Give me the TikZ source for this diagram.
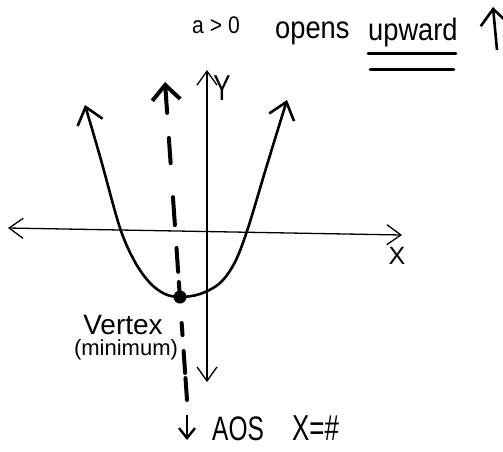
\documentclass[tikz,border=0pt]{standalone}
\usepackage{fontspec}
\setmainfont{Liberation Sans}
\newfontfamily\hand[FakeStretch=0.72]{Liberation Sans}
\newfontfamily\handw[FakeStretch=0.88]{Liberation Sans}
\usetikzlibrary{arrows.meta,calc}
\begin{document}
\begin{tikzpicture}[x=1pt,y=-1pt,
  axis/.style={line width=1.3pt,{Straight Barb[length=14pt,width=20pt]}-{Straight Barb[length=14pt,width=20pt]}},
  curve/.style={line width=2.6pt,line cap=round,line join=round,{Straight Barb[length=16pt,width=26pt]}-{Straight Barb[length=16pt,width=26pt]}},
  aosdash/.style={line width=4pt,line cap=round},
  uline/.style={line width=3pt,line cap=round},
  txt/.style={inner sep=0pt},
  hw/.style={txt,font=\handw\fontsize{31}{33}\selectfont}
]
\useasboundingbox (0,0) rectangle (503,451);

% key points
\coordinate (ytop) at (207,70);
\coordinate (ybot) at (207,382);
\coordinate (xl) at (8,228);
\coordinate (xr) at (402,235);
\coordinate (V) at (180,297);
\coordinate (aostop) at (165,82);
\coordinate (aosbot) at (187,400);

% axes
\draw[axis] (ybot) -- (ytop);
\draw[axis] (xl) -- (xr);
\node[txt,font=\hand\fontsize{36}{38}\selectfont] (ylab) at (222,88) {Y};
\node[txt,font=\fontsize{25}{27}\selectfont] (xlab) at (397,256) {X};

% parabola
\draw[curve] plot[smooth,tension=0.55] coordinates {(85,105) (101,160) (120,228) (135,262) (150,283) (165,294) (180,297) (200,294) (220,283) (235,262) (248,228) (267,165) (287,100)};

% axis of symmetry (hand dashed)
\draw[aosdash,-{Straight Barb[length=15pt,width=28pt]}] ($(aostop)!0.097!(aosbot)$) -- (aostop);
\foreach \a/\b in {0.176/0.255,0.362/0.45,0.522/0.597,0.629/0.676,0.758/0.796,0.846/0.915,0.931/1}
  \draw[aosdash] ($(aostop)!\a!(aosbot)$) -- ($(aostop)!\b!(aosbot)$);
\fill (V) circle (6.5pt);

% labels
\node[txt,font=\handw\fontsize{24}{26}\selectfont] (acond) at (216,25) {a > 0};
\node[hw,anchor=base west] (opens) at (275,38) {opens};
\node[hw,anchor=base west] (upward) at (368,40) {upward};
\draw[uline] ($(upward.base west)+(0,13)$) -- ($(upward.base east)+(-2,13)$);
\draw[uline] ($(upward.base west)+(2,29)$) -- ($(upward.base east)+(-4,29)$);
\coordinate (upA) at (497,50);
\coordinate (upB) at (493,7);
\draw[line width=2.6pt,-{Straight Barb[length=16pt,width=28pt]}] (upA) -- (upB);

\node[txt,font=\fontsize{28}{30}\selectfont] (vertex) at (123,325) {Vertex};
\node[txt,font=\fontsize{22}{24}\selectfont] (minimum) at (126,350) {(minimum)};

\coordinate (dnA) at (187,415);
\coordinate (dnB) at (187,440);
\draw[line width=2.4pt,-{Straight Barb[length=10pt,width=16pt]}] (dnA) -- (dnB);
\node[txt,font=\hand\fontsize{34}{36}\selectfont,anchor=base west] (aos) at (212,440) {AOS};
\node[txt,font=\hand\fontsize{36}{38}\selectfont,anchor=base west] (xeq) at (292,440) {X=\#};
\end{tikzpicture}
\end{document}
